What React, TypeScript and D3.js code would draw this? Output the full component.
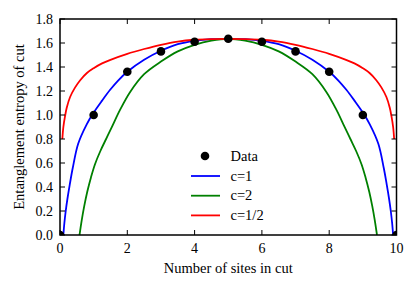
import * as d3 from 'd3';

// measured data points
const sites = [0, 1, 2, 3, 4, 5, 6, 7, 8, 9, 10];
const entropy = [0, 1.0, 1.36, 1.53, 1.61, 1.635, 1.61, 1.53, 1.36, 1.0, 0];

// c=1 curve
const c1X = [0.1, 0.13, 0.17, 0.22, 0.29, 0.38, 0.54, 0.79, 1, 1.25, 1.49, 1.72, 2, 2.5, 3, 3.5, 4, 4.5, 5,
    5.5, 6, 6.5, 7, 7.5, 8, 8.28, 8.51, 8.75, 9, 9.21, 9.46, 9.62, 9.71, 9.78, 9.83, 9.87, 9.9];
const c1Y = [0, 0.1, 0.2, 0.3, 0.42, 0.56, 0.76, 0.92, 1.02, 1.12, 1.21, 1.285, 1.36, 1.46, 1.535, 1.59, 1.618, 1.632, 1.635,
    1.632, 1.618, 1.59, 1.535, 1.46, 1.36, 1.285, 1.21, 1.12, 1.02, 0.92, 0.76, 0.56, 0.42, 0.3, 0.2, 0.1, 0];

// c=2 curve
const c2X = [0.58, 0.65, 0.72, 0.81, 0.92, 1.04, 1.2, 1.37, 1.55, 1.78, 2.08, 2.5, 3, 3.5, 4, 4.5, 5,
    5.5, 6, 6.5, 7, 7.5, 7.92, 8.22, 8.45, 8.63, 8.8, 8.96, 9.08, 9.19, 9.28, 9.35, 9.42];
const c2Y = [0, 0.13, 0.24, 0.36, 0.48, 0.59, 0.7, 0.8, 0.905, 1.04, 1.19, 1.34, 1.445, 1.53, 1.585, 1.62, 1.635,
    1.62, 1.585, 1.53, 1.445, 1.34, 1.19, 1.04, 0.905, 0.8, 0.7, 0.59, 0.48, 0.36, 0.24, 0.13, 0];

// c=1/2 curve
const cHalfX = [0.07, 0.1, 0.15, 0.2, 0.3, 0.45, 0.6, 0.8, 1, 1.25, 1.5, 2, 2.5, 3, 3.5, 4, 4.5, 5,
    5.5, 6, 6.5, 7, 7.5, 8, 8.5, 8.75, 9, 9.2, 9.4, 9.55, 9.7, 9.8, 9.85, 9.9, 9.93];
const cHalfY = [0.8, 0.9, 0.99, 1.06, 1.15, 1.23, 1.29, 1.35, 1.39, 1.43, 1.46, 1.51, 1.55, 1.585, 1.612, 1.627, 1.633, 1.635,
    1.633, 1.627, 1.612, 1.585, 1.55, 1.51, 1.46, 1.43, 1.39, 1.35, 1.29, 1.23, 1.15, 1.06, 0.99, 0.9, 0.8];

const xTicks = [0, 2, 4, 6, 8, 10];
const yTicks = [0, 0.2, 0.4, 0.6, 0.8, 1.0, 1.2, 1.4, 1.6, 1.8];

const series = [
    { label: 'c=1', xs: c1X, ys: c1Y, color: '#0000ff' },
    { label: 'c=2', xs: c2X, ys: c2Y, color: '#008000' },
    { label: 'c=1/2', xs: cHalfX, ys: cHalfY, color: '#ff0000' },
];

const width = 416,
    height = 289;
const left = 60,
    right = 396.5,
    top = 19,
    bottom = 235;
const font = '"Liberation Serif", serif';

export default function App() {
    const x = d3.scaleLinear().domain([0, 10]).range([left, right]);
    const y = d3.scaleLinear().domain([0, 1.8]).range([bottom, top]);

    const tick = 5;

    return (
        <svg width={width} height={height} style={{ position: 'absolute', left: 0, top: 0, background: '#fff' }}>
            <defs>
                <clipPath id="plot">
                    <rect x={left} y={top} width={right - left} height={bottom - top} />
                </clipPath>
            </defs>

            <g clipPath="url(#plot)">
                {series.map((s) => {
                    const gen = d3
                        .line<number>()
                        .x((d) => x(s.xs[d]))
                        .y((d) => y(s.ys[d]))
                        .curve(d3.curveCatmullRom.alpha(0.5));
                    return (
                        <path
                            key={s.label}
                            d={gen(d3.range(s.xs.length)) || ''}
                            fill="none"
                            stroke={s.color}
                            strokeWidth={1.8}
                        />
                    );
                })}
                {sites.map((s, i) => (
                    <circle key={i} cx={x(s)} cy={y(entropy[i])} r={4.3} fill="#000" />
                ))}
            </g>

            {/* ticks on all four sides, pointing in */}
            <g stroke="#000" strokeWidth={1}>
                {xTicks.map((t) => (
                    <g key={'x' + t}>
                        <line x1={x(t)} x2={x(t)} y1={bottom} y2={bottom - tick} />
                        <line x1={x(t)} x2={x(t)} y1={top} y2={top + tick} />
                    </g>
                ))}
                {yTicks.map((t) => (
                    <g key={'y' + t}>
                        <line x1={left} x2={left + tick} y1={y(t)} y2={y(t)} />
                        <line x1={right} x2={right - tick} y1={y(t)} y2={y(t)} />
                    </g>
                ))}
            </g>

            <rect x={left} y={top} width={right - left} height={bottom - top} fill="none" stroke="#000" strokeWidth={1.5} />

            <g fontFamily={font} fontSize={14} fill="#000">
                {xTicks.map((t) => (
                    <text key={'xl' + t} x={x(t)} y={bottom + 18} textAnchor="middle">
                        {t}
                    </text>
                ))}
                {yTicks.map((t) => (
                    <text key={'yl' + t} x={left - 7} y={y(t) + 4.5} textAnchor="end">
                        {t.toFixed(1)}
                    </text>
                ))}
            </g>

            <text x={(left + right) / 2} y={273} textAnchor="middle" fontFamily={font} fontSize={14.5}>
                Number of sites in cut
            </text>
            <text
                transform={`translate(24,${(top + bottom) / 2}) rotate(-90)`}
                textAnchor="middle"
                fontFamily={font}
                fontSize={14.5}
            >
                Entanglement entropy of cut
            </text>

            {/* legend */}
            <g fontFamily={font} fontSize={14.5}>
                <circle cx={205} cy={156} r={4.3} fill="#000" />
                <text x={230.5} y={160.5}>Data</text>
                {series.map((s, i) => (
                    <g key={'lg' + s.label}>
                        <line x1={191} x2={220} y1={176 + i * 19.7} y2={176 + i * 19.7} stroke={s.color} strokeWidth={1.8} />
                        <text x={230.5} y={180.5 + i * 19.7}>{s.label}</text>
                    </g>
                ))}
            </g>
        </svg>
    );
}
